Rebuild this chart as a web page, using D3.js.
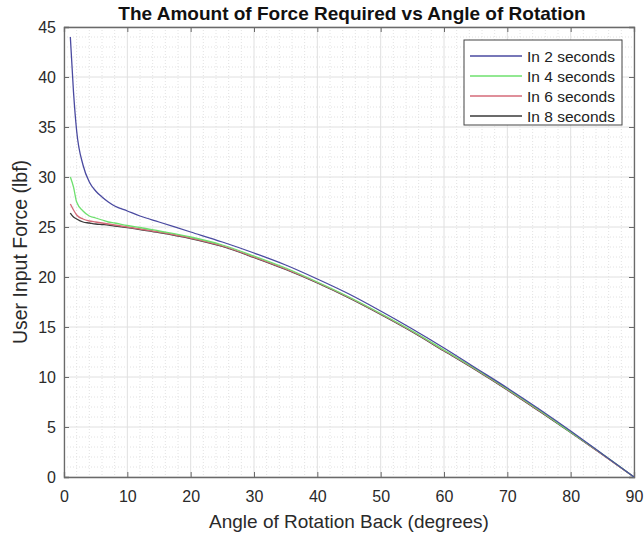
<!DOCTYPE html>
<html><head><meta charset="utf-8">
<script src="https://cdn.jsdelivr.net/npm/d3@7"></script>
<style>body{margin:0;background:#fff;} svg{display:block;font-family:"Liberation Sans",Arial,sans-serif;}</style>
</head><body>
<svg id="c" width="644" height="536"></svg>
<script>
const title = "The Amount of Force Required vs Angle of Rotation";
const xLabel = "Angle of Rotation Back (degrees)";
const yLabel = "User Input Force (lbf)";
const xTicks = [0,10,20,30,40,50,60,70,80,90];
const yTicks = [0,5,10,15,20,25,30,35,40,45];
const seriesNames = ["In 2 seconds","In 4 seconds","In 6 seconds","In 8 seconds"];
const seriesColors = ["#4a4aa0","#6ee06e","#d46a78","#3a3a3a"];
const angles = [1,1.5,2,3,4,5,6,7,8,10,12,15,20,25,30,35,40,45,50,55,60,65,70,75,80,85,90];
const force2s = [44.0,38.5,34.6,31.2,29.5,28.6,28.0,27.5,27.1,26.6,26.1,25.5,24.5,23.5,22.4,21.2,19.8,18.3,16.6,14.8,12.9,10.9,8.9,6.8,4.6,2.3,0];
const force4s = [30.0,29.0,27.5,26.6,26.1,25.9,25.7,25.5,25.4,25.15,24.95,24.6,24.0,23.2,22.1,20.9,19.5,18.0,16.35,14.6,12.7,10.8,8.8,6.7,4.5,2.3,0];
const force6s = [27.3,26.7,26.2,25.8,25.6,25.5,25.4,25.3,25.2,25.0,24.8,24.5,23.9,23.1,22.0,20.8,19.45,17.95,16.3,14.55,12.65,10.75,8.75,6.65,4.5,2.25,0];
const force8s = [26.4,26.0,25.8,25.5,25.4,25.3,25.25,25.2,25.1,24.95,24.75,24.45,23.85,23.05,21.95,20.75,19.4,17.9,16.25,14.5,12.6,10.7,8.7,6.6,4.45,2.25,0];
const allSeries = [force2s, force4s, force6s, force8s];

const svg = d3.select("#c");
const L = 64, R = 634, T = 27, B = 477;
const x = d3.scaleLinear().domain([0,90]).range([L,R]);
const y = d3.scaleLinear().domain([0,45]).range([B,T]);

// minor grid
const g = svg.append("g");
g.selectAll("line.mx").data(d3.range(0,91,2).filter(v=>v%10!==0)).join("line")
  .attr("x1",d=>x(d)).attr("x2",d=>x(d)).attr("y1",T).attr("y2",B)
  .attr("stroke","#e2e2e2").attr("stroke-dasharray","1,2").attr("stroke-width",1);
g.selectAll("line.my").data(d3.range(0,46,1).filter(v=>v%5!==0)).join("line")
  .attr("y1",d=>y(d)).attr("y2",d=>y(d)).attr("x1",L).attr("x2",R)
  .attr("stroke","#e2e2e2").attr("stroke-dasharray","1,2").attr("stroke-width",1);
// major grid
g.selectAll("line.Mx").data(xTicks).join("line")
  .attr("x1",d=>x(d)).attr("x2",d=>x(d)).attr("y1",T).attr("y2",B)
  .attr("stroke","#e0e0e0").attr("stroke-width",1);
g.selectAll("line.My").data(yTicks).join("line")
  .attr("y1",d=>y(d)).attr("y2",d=>y(d)).attr("x1",L).attr("x2",R)
  .attr("stroke","#e0e0e0").attr("stroke-width",1);

// axes
const xAxis = d3.axisBottom(x).tickValues(xTicks).tickSize(-5).tickPadding(14).tickFormat(d3.format("d"));
const yAxis = d3.axisLeft(y).tickValues(yTicks).tickSize(-5).tickPadding(8).tickFormat(d3.format("d"));
const xa = svg.append("g").attr("transform",`translate(0,${B})`).call(xAxis);
const ya = svg.append("g").attr("transform",`translate(${L},0)`).call(yAxis);
const xt = svg.append("g").attr("transform",`translate(0,${T})`).call(d3.axisTop(x).tickValues(xTicks).tickSize(-5).tickFormat(""));
const yr = svg.append("g").attr("transform",`translate(${R},0)`).call(d3.axisRight(y).tickValues(yTicks).tickSize(-5).tickFormat(""));
[xa,ya,xt,yr].forEach(a=>{
  a.select(".domain").attr("stroke","#6a6a6a").attr("stroke-width",1.3);
  a.selectAll(".tick line").attr("stroke","#6a6a6a");
  a.selectAll("text").attr("font-size",16).attr("fill","#2a2a2a").attr("font-family","Liberation Sans, Arial, sans-serif");
});

// lines
const line = d3.line().x((d,i)=>x(angles[i])).y(d=>y(d)).curve(d3.curveMonotoneX);
[3,2,1,0].forEach(k=>{
  svg.append("path").datum(allSeries[k]).attr("d",line)
    .attr("fill","none").attr("stroke",seriesColors[k]).attr("stroke-width",1.3);
});

// title & labels
svg.append("text").attr("x",(L+R)/2 + 3).attr("y",20).attr("text-anchor","middle")
  .attr("font-size",19).attr("font-weight","bold").attr("fill","#111").text(title);
svg.append("text").attr("x",(L+R)/2).attr("y",528).attr("text-anchor","middle")
  .attr("font-size",19).attr("fill","#2a2a2a").text(xLabel);
svg.append("text").attr("transform",`translate(27,${(T+B)/2}) rotate(-90)`).attr("text-anchor","middle")
  .attr("font-size",19.5).attr("fill","#2a2a2a").text(yLabel);

// legend
const lg = svg.append("g");
lg.append("rect").attr("x",464).attr("y",40).attr("width",158).attr("height",85)
  .attr("fill","#fff").attr("stroke","#444").attr("stroke-width",1);
seriesNames.forEach((n,i)=>{
  const yy = 56 + i*20;
  lg.append("line").attr("x1",470).attr("x2",522).attr("y1",yy).attr("y2",yy)
    .attr("stroke",seriesColors[i]).attr("stroke-width",1.3);
  lg.append("text").attr("x",527).attr("y",yy+5.5).attr("font-size",15.5).attr("fill","#222").text(n);
});
</script>
</body></html>
